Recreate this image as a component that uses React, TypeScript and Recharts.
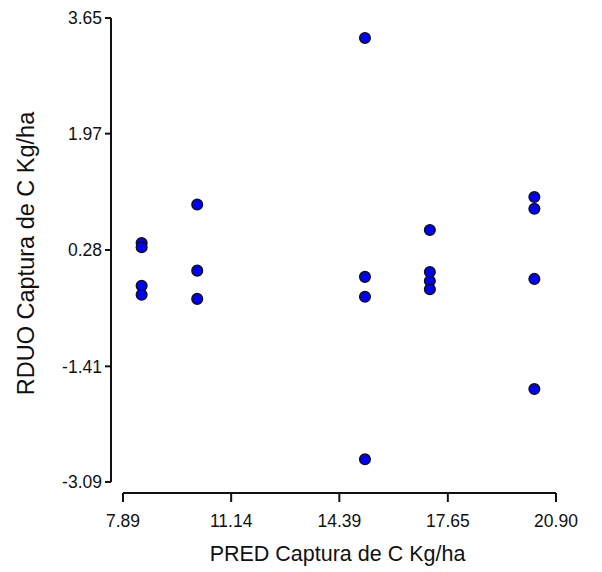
import React from "react";
import { ScatterChart, Scatter, XAxis, YAxis } from "recharts";

// predicted values (x) and residuals (y), one entry per point
const predX = [
  8.45, 8.45, 8.45, 8.45,
  10.12, 10.12, 10.12,
  15.16, 15.16, 15.16, 15.16,
  17.11, 17.11, 17.11, 17.11,
  20.25, 20.25, 20.25, 20.25,
];
const residY = [
  0.38, 0.32, -0.24, -0.37,
  0.94, -0.02, -0.43,
  3.36, -0.11, -0.4, -2.76,
  0.57, -0.04, -0.17, -0.29,
  1.05, 0.88, -0.14, -1.74,
];

const xTicks = [7.89, 11.14, 14.39, 17.65, 20.9];
const yTicks = [-3.09, -1.41, 0.28, 1.97, 3.65];

const data = predX.map((x, i) => ({ x, y: residY[i] }));

const font = "'Liberation Sans', Arial, sans-serif";

const Dot = (p: any) => (
  <circle cx={p.cx} cy={p.cy} r={5.3} fill="#0000ff" stroke="#111" strokeWidth={1.5} />
);

const XTick = (p: any) => (
  <text x={p.x} y={p.y} dy="0.71em" textAnchor="middle" fontFamily={font} fontSize={17.5} fill="#111">
    {p.payload.value.toFixed(2)}
  </text>
);

const YTick = (p: any) => (
  <text x={p.x} y={p.y} dy="0.36em" textAnchor="end" fontFamily={font} fontSize={17.5} fill="#111">
    {p.payload.value.toFixed(2)}
  </text>
);

export default function App() {
  return (
    <div style={{ position: "absolute", left: 0, top: 0 }}>
      <ScatterChart
        width={602}
        height={572}
        margin={{ top: 18, right: 46, bottom: 0, left: 0 }}
      >
        <XAxis
          type="number"
          dataKey="x"
          domain={[7.89, 20.9]}
          ticks={xTicks}
          interval={0}
          padding={{ left: 12, right: 0 }}
          height={79}
          tickSize={9}
          tickMargin={13}
          tick={XTick}
          axisLine={{ stroke: "#111", strokeWidth: 2, strokeDasharray: "0 12 433 40" }}
          tickLine={{ stroke: "#111", strokeWidth: 2 }}
          label={{
            value: "PRED Captura de C Kg/ha",
            position: "insideBottom",
            offset: 11,
            dx: 4,
            style: { fontFamily: font, fontSize: 21.5, fill: "#111" },
          }}
        />
        <YAxis
          type="number"
          dataKey="y"
          domain={[-3.09, 3.65]}
          ticks={yTicks}
          interval={0}
          padding={{ top: 0, bottom: 11 }}
          width={111}
          tickSize={6}
          tickMargin={3}
          tick={YTick}
          axisLine={{ stroke: "#111", strokeWidth: 2, strokeDasharray: "464 40" }}
          tickLine={{ stroke: "#111", strokeWidth: 2 }}
          label={{
            value: "RDUO Captura de C Kg/ha",
            angle: -90,
            position: "insideLeft",
            offset: 26,
            dy: -2,
            style: { fontFamily: font, fontSize: 23.5, fill: "#111", textAnchor: "middle" },
          }}
        />
        <Scatter data={data} shape={Dot} isAnimationActive={false} />
      </ScatterChart>
    </div>
  );
}
